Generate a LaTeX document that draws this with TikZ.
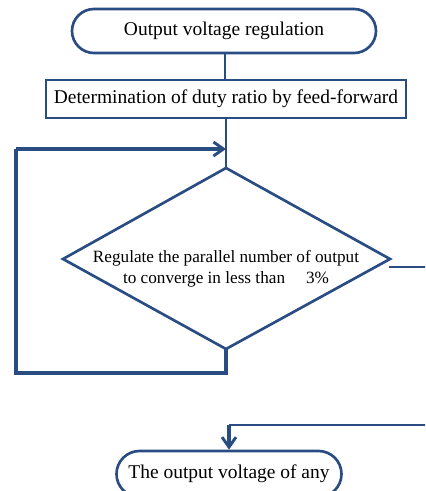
\documentclass[tikz,border=0pt]{standalone}
\usepackage{fontspec}
\setmainfont{Liberation Serif}
\usetikzlibrary{shapes.misc,arrows.meta}
\definecolor{fc}{RGB}{41,77,130}
\begin{document}
\begin{tikzpicture}[x=0.75pt,y=-0.75pt,
  line/.style={draw=fc,line width=2pt},
  loopline/.style={draw=fc,line width=2.5pt},
  arr/.style={-{Straight Barb[length=7.5pt,width=10.5pt,line width=2.2pt]}},
  term/.style={draw=fc,line width=2pt,rounded rectangle,inner sep=0pt,
    font=\fontsize{14.6pt}{17pt}\selectfont,text=black},
  procbox/.style={draw=fc,line width=2pt,rectangle,inner sep=0pt,
    font=\fontsize{14.6pt}{17pt}\selectfont,text=black}]
\useasboundingbox (0,0) rectangle (425,491);
\clip (0,0) rectangle (425,491);
% nodes
\node[term,minimum width=304*0.75pt,minimum height=44*0.75pt] (start) at (224,31) {Output voltage regulation};
\node[procbox,minimum width=360*0.75pt,minimum height=38*0.75pt] (ff) at (226,99) {Determination of duty ratio by feed-forward};
\coordinate (dt) at (226,168);
\coordinate (dl) at (63,259);
\coordinate (dr) at (390,259);
\coordinate (db) at (226,349);
\draw[line] (dt) -- (dl) -- (db) -- (dr) -- cycle;
\node[align=center,inner sep=0pt,font=\fontsize{12.9pt}{15.8pt}\selectfont] (dtext) at (226,269)
  {Regulate the parallel number of output\\to converge in less than\hspace{12.5pt} 3\%};
\node[term,minimum width=225*0.75pt,minimum height=46*0.75pt] (endn) at (229,474) {The output voltage of any};
% connectors
\coordinate (mergept) at (226,149);
\coordinate (loopTL) at (16,149);
\coordinate (loopBL) at (16,373);
\coordinate (loopBR) at (226,373);
\coordinate (rout) at (389,267);
\coordinate (redge) at (426,267);
\coordinate (bedge) at (426,425);
\coordinate (bturn) at (229,425);
\draw[line] (start.south -| 225,0) -- (ff.north -| 225,0);
\draw[line] (ff.south -| dt) -- (dt);
\draw[loopline] (db) -- (loopBR) -- (loopBL) -- (loopTL);
\draw[loopline,arr] (loopTL) -- (mergept);
\draw[line] (rout) -- (redge);
\draw[line] (bedge) -- (bturn);
\draw[loopline,arr] (bturn) -- (endn.north -| bturn);
\end{tikzpicture}
\end{document}
